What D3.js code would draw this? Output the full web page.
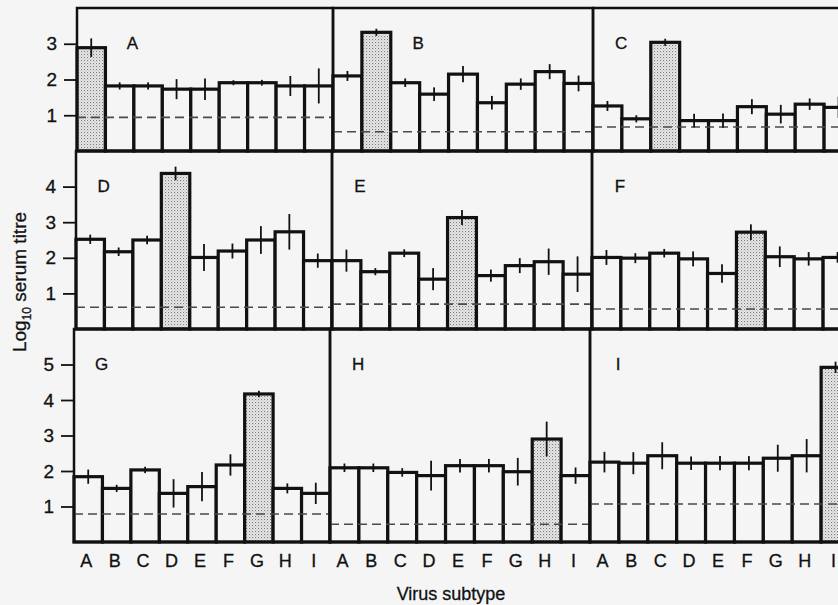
<!DOCTYPE html>
<html>
<head>
<meta charset="utf-8">
<script src="https://cdnjs.cloudflare.com/ajax/libs/d3/7.8.5/d3.min.js"></script>
<style>
  html, body { margin: 0; padding: 0; background: #f5f5f5; }
  svg { display: block; font-family: "Liberation Sans", Arial, sans-serif; }
  svg text { stroke: #111; stroke-width: 0.3px; }
</style>
</head>
<body>
<svg id="chart" width="838" height="605"></svg>
<script>
"use strict";
// virus subtypes along x, one panel per antiserum
var subtypes = ['A', 'B', 'C', 'D', 'E', 'F', 'G', 'H', 'I'];
var sera = ['A', 'B', 'C', 'D', 'E', 'F', 'G', 'H', 'I'];

// mean log10 titre, one row per serum
var titre = [
	[2.89, 1.82, 1.82, 1.73, 1.73, 1.91, 1.91, 1.82, 1.82],
	[2.10, 3.32, 1.91, 1.59, 2.15, 1.35, 1.87, 2.22, 1.89],
	[1.26, 0.90, 3.04, 0.85, 0.85, 1.24, 1.03, 1.31, 1.22],
	[2.52, 2.17, 2.50, 4.37, 2.01, 2.19, 2.50, 2.73, 1.92],
	[1.92, 1.61, 2.13, 1.40, 3.13, 1.50, 1.78, 1.89, 1.54],
	[2.01, 1.99, 2.13, 1.97, 1.56, 2.72, 2.03, 1.97, 2.01],
	[1.84, 1.51, 2.03, 1.37, 1.56, 2.17, 4.17, 1.51, 1.37],
	[2.09, 2.09, 1.96, 1.87, 2.15, 2.15, 1.98, 2.90, 1.87],
	[2.25, 2.22, 2.43, 2.22, 2.22, 2.22, 2.36, 2.43, 4.92]
];
// half length of the error bars
var errBar = [
	[0.26, 0.10, 0.10, 0.28, 0.30, 0.07, 0.08, 0.28, 0.49],
	[0.14, 0.10, 0.12, 0.19, 0.23, 0.19, 0.16, 0.21, 0.22],
	[0.14, 0.10, 0.10, 0.19, 0.20, 0.21, 0.26, 0.16, 0.30],
	[0.13, 0.12, 0.12, 0.19, 0.38, 0.21, 0.39, 0.50, 0.20],
	[0.31, 0.10, 0.11, 0.31, 0.21, 0.17, 0.21, 0.37, 0.50],
	[0.21, 0.14, 0.12, 0.21, 0.26, 0.22, 0.29, 0.19, 0.15],
	[0.20, 0.10, 0.09, 0.40, 0.41, 0.30, 0.09, 0.14, 0.30],
	[0.12, 0.12, 0.12, 0.42, 0.19, 0.19, 0.39, 0.49, 0.23],
	[0.29, 0.31, 0.38, 0.19, 0.20, 0.20, 0.38, 0.47, 0.16]
];
// dashed pre-immune level for each serum
var cutoff = [0.94, 0.54, 0.67, 0.61, 0.70, 0.56, 0.79, 0.50, 1.07];
// y axis range and ticks per row
var rowMax = [4, 5, 6];
var rowTicks = [[1, 2, 3], [1, 2, 3, 4], [1, 2, 3, 4, 5]];

// layout (scan is slightly skewed, so each row starts a bit further left)
var rowTop = [8, 151, 329];
var rowBottom = [151, 329, 542];
var rowLeft = [77, 76, 74];
var colOffset = [0, 256, 516];
var colWidth = [256, 260, 260];

var svg = d3.select('#chart');

var defs = svg.append('defs');
var pat = defs.append('pattern')
	.attr('id', 'stipple')
	.attr('patternUnits', 'userSpaceOnUse')
	.attr('width', 3)
	.attr('height', 3);
pat.append('rect').attr('width', 3).attr('height', 3).attr('fill', '#e8e8e8');
pat.append('rect').attr('x', 0).attr('y', 0).attr('width', 1.1).attr('height', 1.1).attr('fill', '#7c7c7c');
pat.append('rect').attr('x', 1.5).attr('y', 1.5).attr('width', 1).attr('height', 1).attr('fill', '#ababab');

function drawPanel(p) {
	var row = Math.floor(p / 3), col = p % 3;
	var x0 = rowLeft[row] + colOffset[col];
	var x = d3.scaleBand().domain(subtypes).range([x0, x0 + colWidth[col]]).padding(0);
	var y = d3.scaleLinear().domain([0, rowMax[row]]).range([rowBottom[row], rowTop[row]]);
	var g = svg.append('g').attr('class', 'panel');
	var data = subtypes.map(function(s, i) {
		return {sub: s, v: titre[p][i], e: errBar[p][i], homo: s == sera[p]};
	});

	g.selectAll('rect.bar').data(data).enter().append('rect')
		.attr('class', 'bar')
		.attr('x', function(d) { return x(d.sub); })
		.attr('y', function(d) { return y(d.v); })
		.attr('width', x.bandwidth())
		.attr('height', function(d) { return y(0) - y(d.v); })
		.style('fill', function(d) { return d.homo ? 'url(#stipple)' : '#f5f5f5'; })
		.style('stroke', '#111')
		.style('stroke-width', 3.2);

	g.append('line')
		.attr('x1', x0).attr('x2', x0 + colWidth[col])
		.attr('y1', y(cutoff[p])).attr('y2', y(cutoff[p]))
		.style('stroke', '#4a4a4a')
		.style('stroke-width', 1.6)
		.style('stroke-dasharray', '9,5');

	g.selectAll('line.err').data(data).enter().append('line')
		.attr('class', 'err')
		.attr('x1', function(d) { return x(d.sub) + x.bandwidth() / 2; })
		.attr('x2', function(d) { return x(d.sub) + x.bandwidth() / 2; })
		.attr('y1', function(d) { return y(d.v + d.e); })
		.attr('y2', function(d) { return y(d.v - d.e); })
		.style('stroke', '#111')
		.style('stroke-width', 1.8);

	g.append('rect')
		.attr('x', x0).attr('y', rowTop[row])
		.attr('width', colWidth[col]).attr('height', rowBottom[row] - rowTop[row])
		.style('fill', 'none')
		.style('stroke', '#111')
		.style('stroke-width', 2.5);

	// panel letter sits just right of the stippled bar when that bar is at the left
	var hi = subtypes.indexOf(sera[p]);
	var lblBand = hi < 2 ? hi + 1.95 : 0.97;
	g.append('text')
		.attr('x', x0 + lblBand * x.bandwidth())
		.attr('y', rowTop[row] + 41)
		.attr('text-anchor', 'middle')
		.style('font-size', '17px')
		.style('fill', '#111')
		.text(sera[p]);

	if (col == 0) {
		var ax = svg.append('g')
			.attr('transform', 'translate(' + x0 + ',0)')
			.call(d3.axisLeft(y).tickValues(rowTicks[row]).tickSize(13).tickPadding(7).tickFormat(d3.format('d')));
		ax.select('.domain').remove();
		ax.selectAll('line').style('stroke', '#111').style('stroke-width', 1.8);
		ax.selectAll('text').style('font-size', '19px').style('fill', '#111');
	}
	if (row == 2) {
		var bx = svg.append('g')
			.attr('transform', 'translate(0,' + rowBottom[row] + ')')
			.call(d3.axisBottom(x).tickSize(0).tickPadding(12));
		bx.select('.domain').remove();
		bx.selectAll('text').attr('dx', -2).style('font-size', '18px').style('fill', '#111');
	}
}

for (var p = 0; p < 9; p++) {
	drawPanel(p);
}

svg.append('text')
	.attr('x', 451).attr('y', 600)
	.attr('text-anchor', 'middle')
	.style('font-size', '18px')
	.style('fill', '#111')
	.text('Virus subtype');

var yt = svg.append('text')
	.attr('transform', 'translate(26,282) rotate(-90)')
	.attr('text-anchor', 'middle')
	.style('font-size', '19px')
	.style('fill', '#111');
yt.append('tspan').text('Log');
yt.append('tspan').attr('dy', 5).style('font-size', '12px').text('10');
yt.append('tspan').attr('dy', -5).text(' serum titre');
</script>
</body>
</html>
